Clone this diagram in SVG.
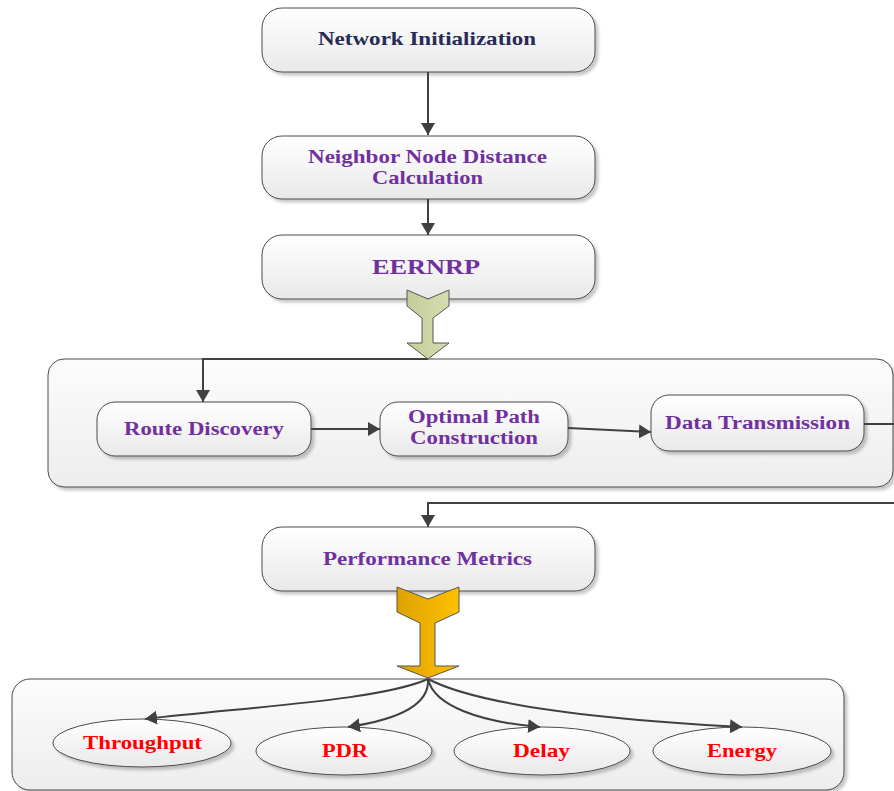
<svg xmlns="http://www.w3.org/2000/svg" width="894" height="791" viewBox="0 0 894 791">
<defs>
<linearGradient id="boxg" x1="0" y1="0" x2="0" y2="1">
<stop offset="0" stop-color="#ffffff"/>
<stop offset="1" stop-color="#e9e9e9"/>
</linearGradient>
<linearGradient id="contg" x1="0" y1="0" x2="0" y2="1">
<stop offset="0" stop-color="#fcfcfc"/>
<stop offset="1" stop-color="#ededed"/>
</linearGradient>
<linearGradient id="greeng" x1="0" y1="0" x2="1" y2="0">
<stop offset="0" stop-color="#c3cd98"/>
<stop offset="1" stop-color="#d5ddb0"/>
</linearGradient>
<linearGradient id="goldg" x1="0" y1="0" x2="1" y2="0">
<stop offset="0" stop-color="#dda200"/>
<stop offset="1" stop-color="#ffc000"/>
</linearGradient>
<filter id="sh" x="-5%" y="-10%" width="115%" height="130%">
<feDropShadow dx="3" dy="3" stdDeviation="1.5" flood-color="#000" flood-opacity="0.22"/>
</filter>
<marker id="ah" markerUnits="userSpaceOnUse" markerWidth="13" markerHeight="14" refX="12" refY="7" orient="auto">
<path d="M0,0 L12,7 L0,14 z" fill="#404040"/>
</marker>
</defs>
<style>
.box{fill:url(#boxg);stroke:#4a4a4a;stroke-width:1;filter:url(#sh)}
.cont{fill:url(#contg);stroke:#4a4a4a;stroke-width:1;filter:url(#sh)}
.ell{fill:url(#boxg);stroke:#4a4a4a;stroke-width:1;filter:url(#sh)}
.t{font-family:"Liberation Serif","Times New Roman",serif;font-weight:bold}
.navy{fill:#262c55;font-size:19px}
.pur{fill:#7030a0;font-size:19px}
.pur18{fill:#7030a0;font-size:18px}
.red{fill:#ff0000;font-size:19px}
.ln{fill:none;stroke:#404040;stroke-width:2}
.arr{fill:none;stroke:#404040;stroke-width:2;marker-end:url(#ah)}
</style>

<g id="container-routing">
<rect class="cont" x="48" y="359" width="845" height="128" rx="16"/>
</g>
<g id="container-metrics">
<rect class="cont" x="12" y="679" width="832" height="111" rx="18"/>
</g>

<g id="node-network-init">
<rect class="box" x="262" y="8" width="333" height="64" rx="20"/>
<text class="t navy" x="318" y="45" textLength="218" lengthAdjust="spacingAndGlyphs">Network Initialization</text>
</g>
<g id="node-neighbor">
<rect class="box" x="262" y="136" width="333" height="63" rx="20"/>
<text class="t pur" x="308" y="163" textLength="239" lengthAdjust="spacingAndGlyphs">Neighbor Node Distance</text>
<text class="t pur" x="372" y="184" textLength="111" lengthAdjust="spacingAndGlyphs">Calculation</text>
</g>
<g id="node-eernrp">
<rect class="box" x="262" y="235" width="333" height="64" rx="20"/>
<text class="t" x="372" y="274" textLength="108" lengthAdjust="spacingAndGlyphs" style="fill:#7030a0;font-size:21px">EERNRP</text>
</g>
<g id="node-route-discovery">
<rect class="box" x="97" y="402" width="214" height="54" rx="18"/>
<text class="t pur18" x="124" y="435" textLength="160" lengthAdjust="spacingAndGlyphs">Route Discovery</text>
</g>
<g id="node-optimal-path">
<rect class="box" x="380" y="402" width="188" height="54" rx="18"/>
<text class="t pur18" x="408" y="423" textLength="132" lengthAdjust="spacingAndGlyphs">Optimal Path</text>
<text class="t pur18" x="410" y="444" textLength="128" lengthAdjust="spacingAndGlyphs">Construction</text>
</g>
<g id="node-data-transmission">
<rect class="box" x="651" y="395" width="213" height="56" rx="18"/>
<text class="t pur18" x="665" y="429" textLength="185" lengthAdjust="spacingAndGlyphs">Data Transmission</text>
</g>
<g id="node-performance">
<rect class="box" x="262" y="527" width="333" height="64" rx="20"/>
<text class="t pur18" x="323" y="565" textLength="209" lengthAdjust="spacingAndGlyphs">Performance Metrics</text>
</g>

<g id="node-throughput">
<ellipse class="ell" cx="142" cy="743" rx="89" ry="24"/>
<text class="t red" x="83" y="749" textLength="119" lengthAdjust="spacingAndGlyphs">Throughput</text>
</g>
<g id="node-pdr">
<ellipse class="ell" cx="344" cy="751" rx="88" ry="24"/>
<text class="t red" x="322" y="757" textLength="46" lengthAdjust="spacingAndGlyphs">PDR</text>
</g>
<g id="node-delay">
<ellipse class="ell" cx="542" cy="751" rx="88" ry="24"/>
<text class="t red" x="513" y="757" textLength="57" lengthAdjust="spacingAndGlyphs">Delay</text>
</g>
<g id="node-energy">
<ellipse class="ell" cx="742" cy="751" rx="89" ry="24"/>
<text class="t red" x="707" y="757" textLength="70" lengthAdjust="spacingAndGlyphs">Energy</text>
</g>

<g id="connectors">
<line class="arr" x1="428" y1="72" x2="428" y2="135"/>
<line class="arr" x1="428" y1="199" x2="428" y2="235"/>
<polyline class="arr" points="428,359 203,359 203,402"/>
<line class="arr" x1="311" y1="429" x2="380" y2="429"/>
<line class="arr" x1="568" y1="428" x2="651" y2="432"/>
<line class="ln" x1="864" y1="424" x2="895" y2="424"/>
<polyline class="arr" points="895,503 428,503 428,527"/>
<path class="arr" d="M428,679 C380,700 260,706 145,719"/>
<path class="arr" d="M428,679 C430,706 395,720 348,727"/>
<path class="arr" d="M428,679 C434,706 480,722 540,727"/>
<path class="arr" d="M428,679 C480,706 610,720 742,727"/>
<polygon points="407,290 428,299 449,290 449,306 433,318 433,343 449,343 428,359 407,343 422,343 422,318 407,306" fill="url(#greeng)" stroke="#555" stroke-width="1"/>
<polygon points="397,587 428,599 459,587 459,612 435,623 435,666 459,666 428,678 397,666 420,666 420,623 397,612" fill="url(#goldg)" stroke="#555" stroke-width="1"/>
</g>
</svg>
